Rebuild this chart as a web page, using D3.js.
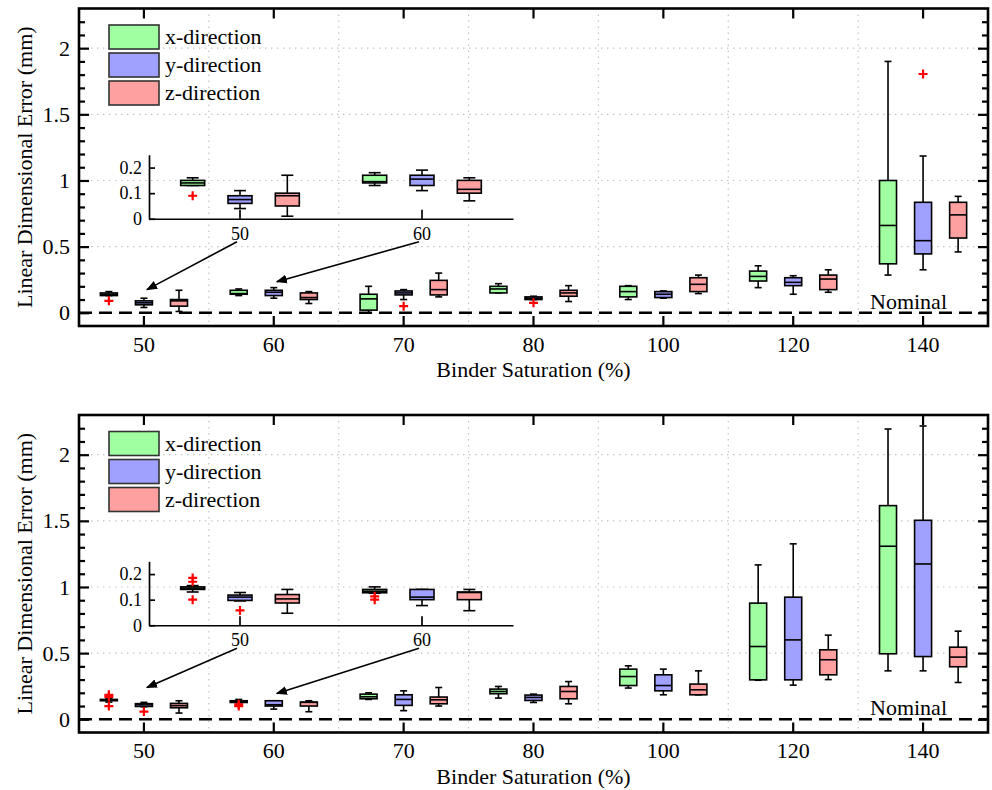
<!DOCTYPE html>
<html>
<head>
<meta charset="utf-8">
<script src="https://cdn.jsdelivr.net/npm/d3@7"></script>
<style>
  body { margin: 0; background: #fff; }
  svg { display: block; font-family: 'Liberation Serif', 'Times New Roman', serif; }
</style>
</head>
<body>
<div id="chart"></div>
<script>
const categories = ['50', '60', '70', '80', '100', '120', '140'];
const insetCategories = ['50', '60'];
const directions = ['x-direction', 'y-direction', 'z-direction'];
const colors = ['#a0ffa0', '#a0a0ff', '#ffa0a0'];
const yMajorTicks = [0, 0.5, 1, 1.5, 2];
const yMajorLabels = ['0', '0.5', '1', '1.5', '2'];
const insetTicks = [0, 0.1, 0.2];
const insetTickLabels = ['0', '0.1', '0.2'];

// box stats per category: [min, q1, median, q3, max]
const topX = [[0.13, 0.13, 0.14, 0.15, 0.16], [0.13, 0.14, 0.145, 0.17, 0.18], [0.0, 0.02, 0.105, 0.14, 0.2],
  [0.15, 0.15, 0.18, 0.2, 0.22], [0.1, 0.12, 0.16, 0.2, 0.205], [0.19, 0.24, 0.275, 0.315, 0.355], [0.285, 0.37, 0.66, 1.0, 1.9]];
const topY = [[0.04, 0.06, 0.075, 0.09, 0.11], [0.11, 0.13, 0.155, 0.17, 0.19], [0.1, 0.135, 0.15, 0.165, 0.175],
  [0.1, 0.1, 0.11, 0.12, 0.125], [0.11, 0.115, 0.14, 0.16, 0.165], [0.14, 0.205, 0.23, 0.265, 0.28], [0.325, 0.445, 0.545, 0.835, 1.185]];
const topZ = [[0.01, 0.05, 0.09, 0.1, 0.17], [0.07, 0.1, 0.115, 0.15, 0.16], [0.12, 0.135, 0.175, 0.245, 0.3],
  [0.085, 0.125, 0.15, 0.17, 0.205], [0.145, 0.16, 0.215, 0.265, 0.285], [0.155, 0.175, 0.255, 0.285, 0.325], [0.46, 0.565, 0.74, 0.835, 0.88]];
// outliers: [category, direction index, value]
const topOutliers = [['50', 0, 0.09], ['70', 1, 0.05], ['80', 1, 0.075], ['140', 1, 1.805]];
const topArrowTargets = [0.175, 0.235];

const bottomX = [[0.13, 0.14, 0.145, 0.15, 0.155], [0.125, 0.127, 0.133, 0.14, 0.15], [0.15, 0.155, 0.17, 0.19, 0.2],
  [0.16, 0.193, 0.21, 0.228, 0.248], [0.236, 0.255, 0.323, 0.379, 0.404], [0.295, 0.298, 0.55, 0.878, 1.167], [0.366, 0.495, 1.308, 1.615, 2.194]];
const bottomY = [[0.095, 0.097, 0.11, 0.118, 0.128], [0.077, 0.1, 0.11, 0.14, 0.14], [0.065, 0.105, 0.15, 0.185, 0.215],
  [0.127, 0.142, 0.165, 0.183, 0.19], [0.185, 0.215, 0.255, 0.336, 0.379], [0.258, 0.298, 0.6, 0.923, 1.326], [0.366, 0.474, 1.174, 1.504, 2.217]];
const bottomZ = [[0.047, 0.087, 0.103, 0.12, 0.14], [0.057, 0.1, 0.128, 0.13, 0.14], [0.1, 0.117, 0.147, 0.168, 0.24],
  [0.117, 0.155, 0.21, 0.248, 0.285], [0.185, 0.185, 0.223, 0.266, 0.366], [0.3, 0.336, 0.45, 0.525, 0.636], [0.278, 0.397, 0.47, 0.545, 0.666]];
const bottomOutliers = [['50', 0, 0.185], ['50', 0, 0.17], ['50', 0, 0.1], ['50', 1, 0.058], ['60', 0, 0.113], ['60', 0, 0.1]];
const bottomArrowTargets = [0.24, 0.195];

const width = 992;
const height = 790;
const plotLeft = 79;
const plotRight = 988;
const fontSize = 22;

const svg = d3.select('#chart').append('svg')
  .attr('width', width).attr('height', height);

svg.append('defs').append('marker')
  .attr('id', 'arrow')
  .attr('viewBox', '0 0 10 10')
  .attr('refX', 9).attr('refY', 5)
  .attr('markerWidth', 7).attr('markerHeight', 7)
  .attr('markerUnits', 'strokeWidth')
  .attr('orient', 'auto')
  .append('path').attr('d', 'M0,1L10,5L0,9Z').attr('fill', '#000');

function drawBoxes(g, x, y, series, offsetFrac, boxW, capW, strokeW) {
  series.forEach((stats, di) => {
    const grp = g.append('g');
    x.domain().forEach((c) => {
      const s = stats[categories.indexOf(c)];
      const cx = x(c) + x.bandwidth() / 2 + (di - 1) * x.bandwidth() * offsetFrac;
      const b = grp.append('g').attr('stroke', '#000').attr('stroke-width', strokeW);
      b.append('line').attr('x1', cx).attr('x2', cx).attr('y1', y(s[0])).attr('y2', y(s[1]));
      b.append('line').attr('x1', cx).attr('x2', cx).attr('y1', y(s[3])).attr('y2', y(s[4]));
      b.append('line').attr('x1', cx - capW / 2).attr('x2', cx + capW / 2).attr('y1', y(s[0])).attr('y2', y(s[0]));
      b.append('line').attr('x1', cx - capW / 2).attr('x2', cx + capW / 2).attr('y1', y(s[4])).attr('y2', y(s[4]));
      b.append('rect')
        .attr('x', cx - boxW / 2).attr('width', boxW)
        .attr('y', y(s[3])).attr('height', Math.max(0.5, y(s[1]) - y(s[3])))
        .attr('fill', colors[di]);
      b.append('line').attr('x1', cx - boxW / 2).attr('x2', cx + boxW / 2).attr('y1', y(s[2])).attr('y2', y(s[2]));
    });
  });
}

function drawOutliers(g, x, y, outliers, offsetFrac, size) {
  outliers.filter((o) => x.domain().includes(o[0])).forEach((o) => {
    const cx = x(o[0]) + x.bandwidth() / 2 + (o[1] - 1) * x.bandwidth() * offsetFrac;
    const cy = y(o[2]);
    g.append('path')
      .attr('d', `M${cx - size / 2},${cy}H${cx + size / 2}M${cx},${cy - size / 2}V${cy + size / 2}`)
      .attr('stroke', '#ff0000').attr('stroke-width', 2.2).attr('fill', 'none');
  });
}

function drawPanel(top, bottom, seriesX, seriesY, seriesZ, outliers, arrowTargets) {
  const g = svg.append('g');
  const x = d3.scaleBand().domain(categories).range([plotLeft, plotRight]);
  const y = d3.scaleLinear().domain([-0.1, 2.3]).range([bottom, top]);
  const series = [seriesX, seriesY, seriesZ];

  // grid
  const grid = g.append('g').attr('stroke', '#c4c4c4').attr('stroke-width', 1.2).attr('stroke-dasharray', '1.5,4.5');
  yMajorTicks.filter((v) => v > 0).forEach((v) => {
    grid.append('line').attr('x1', plotLeft).attr('x2', plotRight).attr('y1', y(v)).attr('y2', y(v));
  });
  categories.slice(1).forEach((c) => {
    grid.append('line').attr('x1', x(c)).attr('x2', x(c)).attr('y1', top).attr('y2', bottom);
  });

  // nominal line
  g.append('line')
    .attr('x1', plotLeft).attr('x2', plotRight).attr('y1', y(0)).attr('y2', y(0))
    .attr('stroke', '#000').attr('stroke-width', 2.6).attr('stroke-dasharray', '13,7');
  g.append('text')
    .attr('x', plotRight - 41).attr('y', y(0) - 4)
    .attr('text-anchor', 'end').attr('font-size', fontSize)
    .text('Nominal');

  drawBoxes(g, x, y, series, 0.27, 17, 7, 1.6);
  drawOutliers(g, x, y, outliers, 0.27, 9);

  // inset
  const insetBottom = y(0) - 94;
  const ix = d3.scaleBand().domain(insetCategories).range([149, 513]);
  const iy = d3.scaleLinear().domain([0, 0.25]).range([insetBottom, insetBottom - 64]);
  const ig = g.append('g');
  drawBoxes(ig, ix, iy, series, 0.26, 24, 12, 1.6);
  drawOutliers(ig, ix, iy, outliers, 0.26, 9);
  const iLeft = ig.append('g').attr('transform', `translate(${ix.range()[0]},0)`)
    .call(d3.axisLeft(iy).tickValues(insetTicks).tickFormat((d, i) => insetTickLabels[i])
      .tickSizeInner(-6).tickSizeOuter(0).tickPadding(7));
  const iBottom = ig.append('g').attr('transform', `translate(0,${insetBottom})`)
    .call(d3.axisBottom(ix).tickSizeInner(-9).tickSizeOuter(0).tickPadding(8));
  [iLeft, iBottom].forEach((a) => {
    a.selectAll('path,line').attr('stroke', '#000').attr('stroke-width', 1.7);
    a.selectAll('text').attr('font-size', 18).attr('font-family', 'Liberation Serif').attr('fill', '#000');
  });

  // arrows from inset labels to the boxes
  insetCategories.forEach((c, i) => {
    const sx = ix(c) + ix.bandwidth() / 2 - 3;
    const sy = insetBottom + 23;
    const ex = x(c) + x.bandwidth() / 2 + 3;
    const ey = y(arrowTargets[i]);
    g.append('line')
      .attr('x1', sx).attr('y1', sy).attr('x2', ex).attr('y2', ey)
      .attr('stroke', '#000').attr('stroke-width', 1.6)
      .attr('marker-end', 'url(#arrow)');
  });

  // legend
  const legend = g.append('g').attr('transform', `translate(109,${top + 16.5})`);
  directions.forEach((d, i) => {
    const row = legend.append('g').attr('transform', `translate(0,${i * 28})`);
    row.append('rect').attr('width', 50).attr('height', 24)
      .attr('fill', colors[i]).attr('stroke', '#333').attr('stroke-width', 1.6);
    row.append('text').attr('x', 56).attr('y', 19).attr('font-size', fontSize).text(d);
  });

  // axes
  const minorTicks = d3.range(0, 23).map((v) => v / 10).filter((v) => Math.round(v * 10) % 5 !== 0);
  const styleAxis = (a) => {
    a.select('.domain').remove();
    a.selectAll('line').attr('stroke', '#000').attr('stroke-width', 2.2);
    a.selectAll('text').attr('font-size', fontSize).attr('font-family', 'Liberation Serif').attr('fill', '#000');
  };
  styleAxis(g.append('g').attr('transform', `translate(${plotLeft},0)`)
    .call(d3.axisLeft(y).tickValues(yMajorTicks).tickFormat((d, i) => yMajorLabels[i]).tickSizeInner(-10).tickPadding(9)));
  styleAxis(g.append('g').attr('transform', `translate(${plotLeft},0)`)
    .call(d3.axisLeft(y).tickValues(minorTicks).tickFormat('').tickSizeInner(-6)));
  styleAxis(g.append('g').attr('transform', `translate(${plotRight},0)`)
    .call(d3.axisRight(y).tickValues(yMajorTicks).tickFormat('').tickSizeInner(-10)));
  styleAxis(g.append('g').attr('transform', `translate(${plotRight},0)`)
    .call(d3.axisRight(y).tickValues(minorTicks).tickFormat('').tickSizeInner(-6)));
  styleAxis(g.append('g').attr('transform', `translate(0,${bottom})`)
    .call(d3.axisBottom(x).tickSizeInner(-10).tickPadding(10)));
  styleAxis(g.append('g').attr('transform', `translate(0,${top})`)
    .call(d3.axisTop(x).tickFormat('').tickSizeInner(-10)));

  // frame
  g.append('rect')
    .attr('x', plotLeft).attr('y', top)
    .attr('width', plotRight - plotLeft).attr('height', bottom - top)
    .attr('fill', 'none').attr('stroke', '#000').attr('stroke-width', 2.6);

  // titles
  g.append('text')
    .attr('x', (plotLeft + plotRight) / 2).attr('y', bottom + 51)
    .attr('text-anchor', 'middle').attr('font-size', fontSize)
    .text('Binder Saturation (%)');
  g.append('text')
    .attr('transform', `translate(32,${(top + bottom) / 2}) rotate(-90)`)
    .attr('text-anchor', 'middle').attr('font-size', fontSize)
    .text('Linear Dimensional Error (mm)');
}

drawPanel(8.5, 326, topX, topY, topZ, topOutliers, topArrowTargets);
drawPanel(415, 732.5, bottomX, bottomY, bottomZ, bottomOutliers, bottomArrowTargets);
</script>
</body>
</html>
